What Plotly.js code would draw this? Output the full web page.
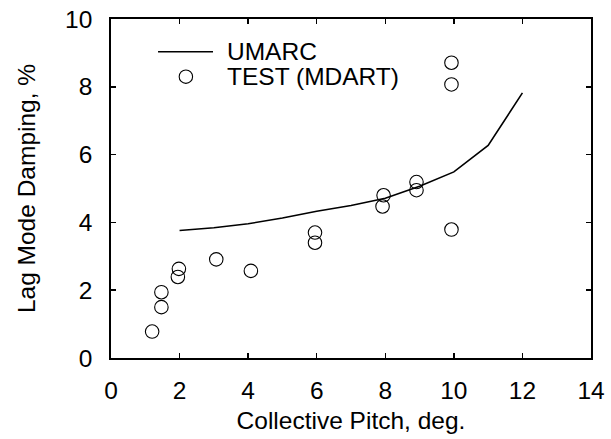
<!DOCTYPE html>
<html>
<head>
<meta charset="utf-8">
<script src="https://cdn.plot.ly/plotly-3.0.1.min.js"></script>
<style>html,body{margin:0;padding:0;background:#fff;}#chart{width:611px;height:439px;}</style>
</head>
<body>
<div id="chart"></div>
<script>
// Analysis (UMARC)
const umarcName = 'UMARC';
const umarcPitch = [2, 3, 4, 5, 6, 7, 8, 9, 10, 11, 12];
const umarcDamping = [3.76, 3.84, 3.96, 4.13, 4.33, 4.50, 4.71, 5.07, 5.49, 6.27, 7.82];
// Test data (MDART)
const testName = 'TEST (MDART)';
const testPitch = [1.20, 1.47, 1.47, 1.95, 1.98, 3.07, 4.08, 5.95, 5.95, 7.92, 7.95, 8.91, 8.91, 9.93, 9.93, 9.93];
const testDamping = [0.78, 1.50, 1.94, 2.39, 2.63, 2.91, 2.57, 3.40, 3.70, 4.47, 4.80, 4.95, 5.19, 3.79, 8.07, 8.71];
const xTicks = [0, 2, 4, 6, 8, 10, 12, 14];
const yTicks = [0, 2, 4, 6, 8, 10];

const FONT = 'Liberation Sans, Arial, sans-serif';
const FS = 24.5;

const traces = [
  {x: umarcPitch, y: umarcDamping, name: umarcName, mode: 'lines', type: 'scatter',
   line: {color: '#000', width: 1.6}, showlegend: false},
  {x: testPitch, y: testDamping, name: testName, mode: 'markers', type: 'scatter',
   marker: {symbol: 'circle-open', size: 13.5, color: '#000', line: {width: 1.1, color: '#000'}}, showlegend: false}
];

const axisCommon = {
  showgrid: false, zeroline: false, showline: true, linecolor: '#000', linewidth: 1.8,
  mirror: 'allticks', ticks: 'inside', ticklen: 5, tickwidth: 1.5, tickcolor: '#000',
  tickfont: {family: FONT, size: FS, color: '#000'}, automargin: false
};

const layout = {
  width: 611, height: 439,
  margin: {l: 111, r: 20, t: 19, b: 81},
  paper_bgcolor: '#fff', plot_bgcolor: '#fff',
  font: {family: FONT, size: FS, color: '#000'},
  xaxis: Object.assign({}, axisCommon, {
    range: [0, 14], tickvals: xTicks, ticktext: xTicks.map(String),
    ticklabelstandoff: 10,
    title: {text: 'Collective Pitch, deg.', font: {family: FONT, size: FS, color: '#000'}, standoff: 9}
  }),
  yaxis: Object.assign({}, axisCommon, {
    range: [0, 10], tickvals: yTicks, ticktext: yTicks.map(String),
    ticklabelstandoff: 12,
    title: {text: 'Lag Mode Damping, %', font: {family: FONT, size: FS, color: '#000'}, standoff: 22}
  }),
  showlegend: false,
  shapes: [
    {type: 'line', xref: 'paper', yref: 'paper', x0: 0.098, x1: 0.2125, y0: 0.9035, y1: 0.9035,
     line: {color: '#000', width: 1.6}},
    {type: 'circle', xref: 'paper', yref: 'paper', xsizemode: 'pixel', ysizemode: 'pixel',
     xanchor: 0.156, yanchor: 0.830, x0: -6.7, x1: 6.7, y0: -6.7, y1: 6.7,
     line: {color: '#000', width: 1.1}}
  ],
  annotations: [
    {xref: 'paper', yref: 'paper', x: 0.237, y: 0.9035, xanchor: 'left', yanchor: 'middle',
     text: umarcName, showarrow: false, font: {family: FONT, size: FS, color: '#000'}},
    {xref: 'paper', yref: 'paper', x: 0.237, y: 0.830, xanchor: 'left', yanchor: 'middle',
     text: testName, showarrow: false, font: {family: FONT, size: FS, color: '#000'}}
  ]
};

Plotly.newPlot('chart', traces, layout, {staticPlot: true, displayModeBar: false});
</script>
</body>
</html>
